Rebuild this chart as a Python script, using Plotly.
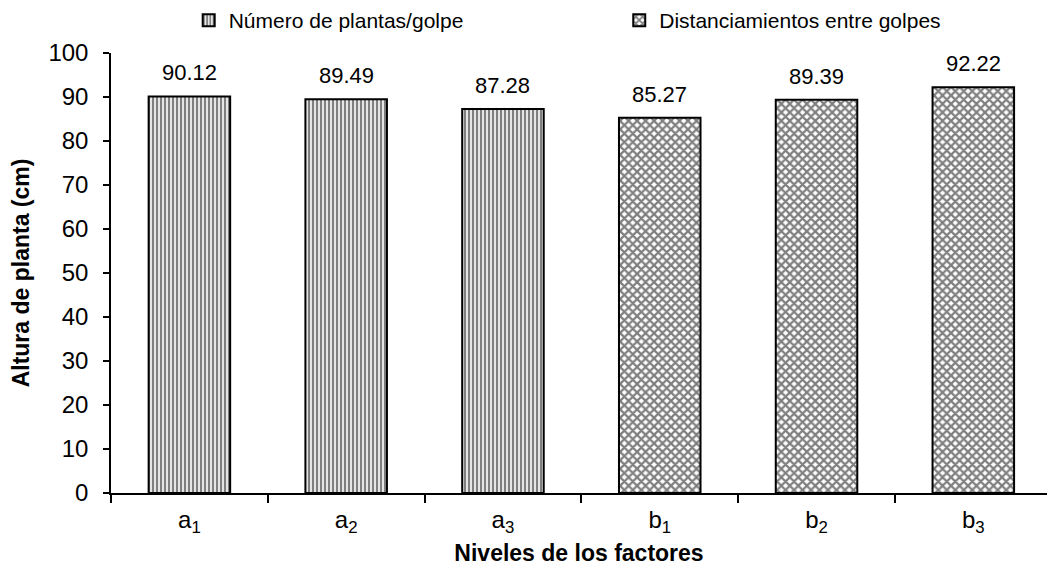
import plotly.graph_objects as go

# Factor levels and mean plant height (cm)
niveles_a = ["a<sub>1</sub>", "a<sub>2</sub>", "a<sub>3</sub>"]
altura_a = [90.12, 89.49, 87.28]
niveles_b = ["b<sub>1</sub>", "b<sub>2</sub>", "b<sub>3</sub>"]
altura_b = [85.27, 89.39, 92.22]
yticks = [0, 10, 20, 30, 40, 50, 60, 70, 80, 90, 100]

FONT = "Liberation Sans, Arial, sans-serif"

fig = go.Figure()
fig.add_trace(go.Bar(
    x=niveles_a, y=altura_a, name="Número de plantas/golpe",
    width=0.52, legend="legend",
    marker=dict(color="white", line=dict(color="black", width=2),
                pattern=dict(shape="|", size=4, solidity=0.6,
                             fgcolor="black", bgcolor="white")),
))
fig.add_trace(go.Bar(
    x=niveles_b, y=altura_b, name="Distanciamientos entre golpes",
    width=0.52, legend="legend2",
    marker=dict(color="white", line=dict(color="black", width=2),
                pattern=dict(shape="x", size=6, solidity=0.6,
                             fgcolor="black", bgcolor="white")),
))

# value labels above each bar
for cat, val in list(zip(niveles_a, altura_a)) + list(zip(niveles_b, altura_b)):
    fig.add_annotation(x=cat, y=val, text=f"{val:.2f}", showarrow=False,
                       yanchor="bottom", yshift=9,
                       font=dict(family=FONT, size=22, color="black"))

legend_common = dict(orientation="h", xanchor="left", y=1.075, yanchor="middle",
                     font=dict(family=FONT, size=21), itemwidth=30,
                     bgcolor="rgba(0,0,0,0)")
fig.update_layout(
    width=1047, height=574,
    margin=dict(l=111, r=0, t=51, b=81),
    paper_bgcolor="white", plot_bgcolor="white",
    font=dict(family=FONT, size=22, color="black"),
    barmode="overlay",
    showlegend=True,
    legend=dict(x=0.083, **legend_common),
    legend2=dict(x=0.543, **legend_common),
)
fig.update_xaxes(
    range=[-0.5, 5.47],
    showline=True, linecolor="black", linewidth=1.5,
    ticks="outside", tickson="boundaries", ticklen=8, tickcolor="black", tickwidth=1.5,
    ticklabelstandoff=4,
    tickfont=dict(family=FONT, size=24),
    title=dict(text="<b>Niveles de los factores</b>", font=dict(family=FONT, size=23), standoff=9),
    showgrid=False,
)
fig.update_yaxes(
    range=[0, 100], tickvals=yticks,
    showline=True, linecolor="black", linewidth=1.5,
    ticks="outside", ticklen=6, tickcolor="black", tickwidth=1.5,
    ticklabelstandoff=10,
    tickfont=dict(family=FONT, size=24),
    title=dict(text="<b>Altura de planta (cm)</b>", font=dict(family=FONT, size=23), standoff=12),
    showgrid=False, zeroline=False,
)

fig.write_html("out.html")
